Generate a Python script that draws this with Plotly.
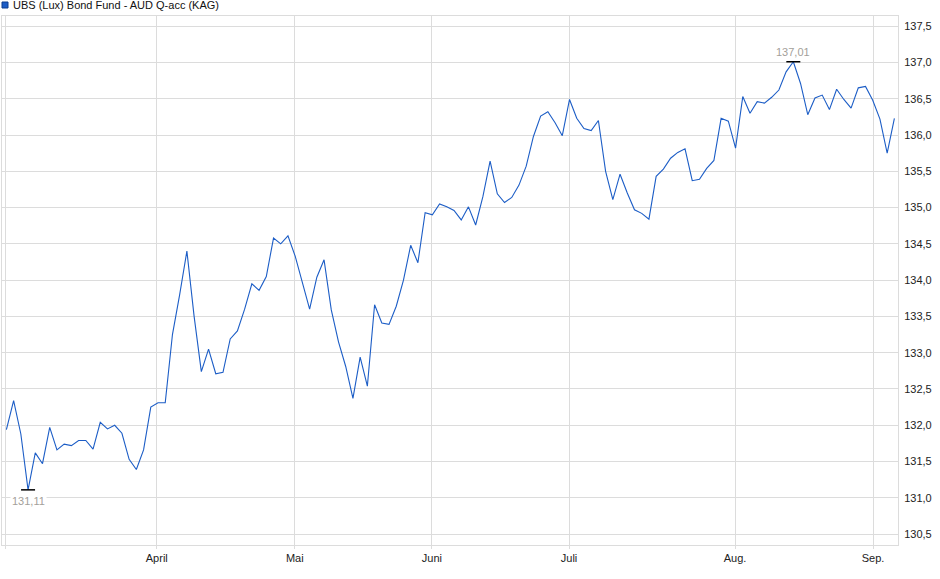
import plotly.graph_objects as go

# Fund prices, one value per trading point
prices = [
    131.94, 132.34, 131.88, 131.11, 131.62, 131.47, 131.97, 131.66, 131.74, 131.72,
    131.79, 131.79, 131.67, 132.04, 131.95, 132.00, 131.89, 131.53, 131.39, 131.66,
    132.25, 132.31, 132.31, 133.25, 133.80, 134.40, 133.50, 132.74, 133.05, 132.71,
    132.73, 133.19, 133.30, 133.60, 133.95, 133.86, 134.05, 134.58, 134.50, 134.61,
    134.33, 133.96, 133.60, 134.04, 134.28, 133.59, 133.15, 132.81, 132.37, 132.94,
    132.54, 133.66, 133.41, 133.39, 133.64, 134.00, 134.48, 134.24, 134.93, 134.90,
    135.05, 135.01, 134.96, 134.83, 135.01, 134.76, 135.15, 135.64, 135.19, 135.07,
    135.14, 135.31, 135.57, 135.98, 136.26, 136.32, 136.17, 135.99, 136.49, 136.23,
    136.09, 136.06, 136.20, 135.50, 135.11, 135.46, 135.20, 134.97, 134.92, 134.84,
    135.43, 135.53, 135.68, 135.76, 135.81, 135.37, 135.39, 135.54, 135.65, 136.23,
    136.19, 135.82, 136.53, 136.30, 136.46, 136.44, 136.52, 136.62, 136.87, 137.01,
    136.71, 136.28, 136.51, 136.55, 136.35, 136.63, 136.49, 136.37, 136.65, 136.67,
    136.48, 136.22, 135.75, 136.23,
]
steps = list(range(len(prices)))

# month starts on the index axis
month_pos = [-0.14, 20.83, 39.95, 58.94, 77.93, 100.93, 120.05]
month_labels = ["", "April", "Mai", "Juni", "Juli", "Aug.", "Sep."]

y_ticks = [130.5, 131.0, 131.5, 132.0, 132.5, 133.0, 133.5, 134.0,
           134.5, 135.0, 135.5, 136.0, 136.5, 137.0, 137.5]

fund_name = "UBS (Lux) Bond Fund - AUD Q-acc (KAG)"
line_color = "#1c5dc6"
grid_color = "#dcdcdc"

fig = go.Figure()
fig.add_trace(
    go.Scatter(
        x=steps,
        y=prices,
        mode="lines",
        line=dict(color=line_color, width=1.1),
        hoverinfo="skip",
        showlegend=False,
    )
)

# min / max markers
i_min = prices.index(min(prices))
i_max = prices.index(max(prices))
fig.add_trace(
    go.Scatter(
        x=[steps[i_min], steps[i_max]],
        y=[prices[i_min], prices[i_max]],
        mode="markers",
        marker=dict(symbol="line-ew-open", size=10, color="black",
                    line=dict(color="black", width=1.5)),
        hoverinfo="skip",
        showlegend=False,
    )
)


def de(v):
    return f"{v:.2f}".replace(".", ",")


fig.add_annotation(
    x=steps[i_min], y=prices[i_min], text=de(prices[i_min]), showarrow=False,
    yshift=-11, bgcolor="white", font=dict(size=11, color="#a3a09a"),
)
fig.add_annotation(
    x=steps[i_max], y=prices[i_max], text=de(prices[i_max]), showarrow=False,
    yshift=10, font=dict(size=11, color="#a3a09a"),
)

# title with a little blue square like a legend
fig.add_shape(
    type="rect", xref="paper", yref="paper", x0=0, x1=6 / 896, y0=1 + 8 / 529, y1=1 + 14 / 529,
    line=dict(color="#0d3f8f", width=1), fillcolor=line_color,
)
fig.add_annotation(
    xref="paper", yref="paper", x=9 / 896, y=1 + 11 / 529, xanchor="left", yanchor="middle",
    text=fund_name, showarrow=False, font=dict(size=11, color="#111"),
)

fig.update_layout(
    width=940,
    height=579,
    margin=dict(l=2, r=42, t=16, b=34),
    paper_bgcolor="white",
    plot_bgcolor="white",
    separators=",.",
    font=dict(family="Liberation Sans, Arial, sans-serif", size=11, color="#222"),
    xaxis=dict(
        range=[-0.61, 123.5],
        tickvals=month_pos,
        ticktext=month_labels,
        showgrid=True,
        gridcolor=grid_color,
        gridwidth=1,
        showline=True,
        linecolor=grid_color,
        mirror=True,
        ticks="outside",
        ticklen=3,
        tickcolor=grid_color,
        zeroline=False,
    ),
    yaxis=dict(
        range=[130.35, 137.64],
        tickvals=y_ticks,
        tickformat=".1f",
        side="right",
        showgrid=True,
        gridcolor=grid_color,
        gridwidth=1,
        showline=True,
        linecolor=grid_color,
        mirror=True,
        ticks="",
        ticklabelstandoff=3,
        zeroline=False,
    ),
)

# the page body has a default 8px margin; drop it so the chart fills the window
fig.write_html(
    "out.html",
    config={"displayModeBar": False},
    post_script="document.body.style.margin = '0';",
)
